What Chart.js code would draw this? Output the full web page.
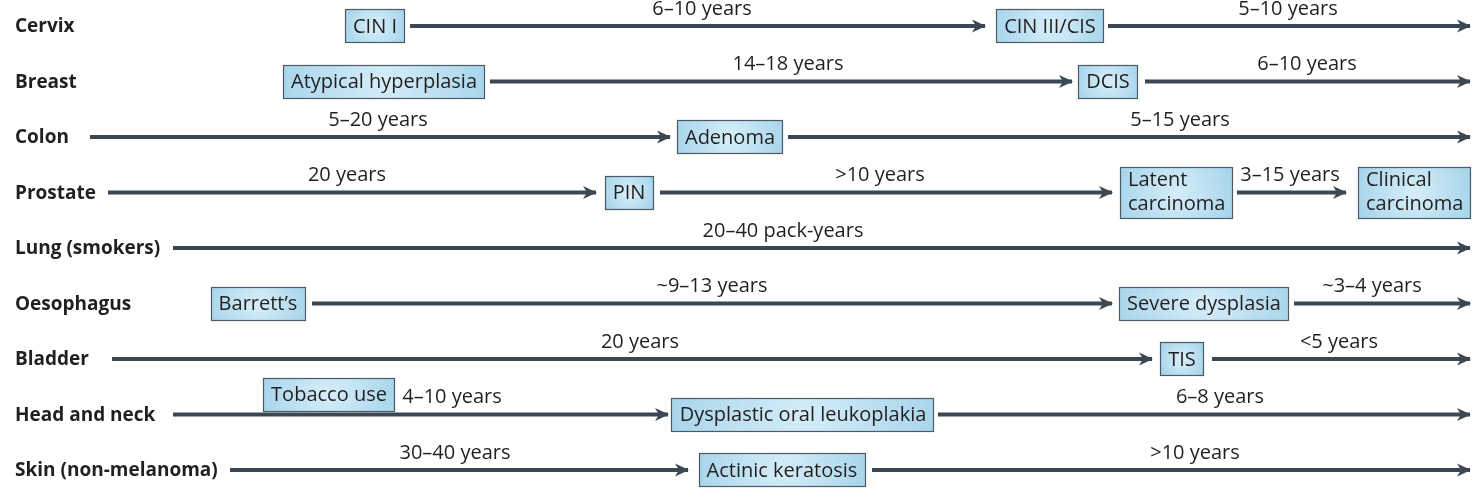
<!DOCTYPE html>
<html>
<head>
<meta charset="utf-8">
<script src="https://cdn.jsdelivr.net/npm/chart.js@4"></script>
<style>
  html, body { margin: 0; padding: 0; background: #fff; }
  #wrap { width: 1480px; height: 499px; position: relative; }
</style>
</head>
<body>
<div id="wrap"><canvas id="progression"></canvas></div>
<script>
// cancer sites, top to bottom
var sites = ["Cervix", "Breast", "Colon", "Prostate", "Lung (smokers)",
             "Oesophagus", "Bladder", "Head and neck", "Skin (non-melanoma)"];

// arrows along each row (position on the diagram, 0-1480)
var arrowSite = [0, 0, 1, 1, 2, 2, 3, 3, 3, 4, 5, 5, 6, 6, 7, 7, 8, 8];
var arrowFrom = [410, 1108, 490, 1145, 90, 788, 108, 660, 1237, 173, 312, 1294, 112, 1212, 173, 938, 230, 872];
var arrowTo   = [985, 1470, 1072, 1470, 670, 1470, 596, 1112, 1346, 1470, 1112, 1470, 1152, 1470, 668, 1470, 688, 1470];

// lesion stages (boxes)
var stageSite = [0, 0, 1, 1, 2, 3, 3, 3, 5, 5, 6, 7, 7, 8];
var stageAt   = [375, 1050, 384, 1108, 730, 629, 1176, 1414, 258, 1204, 1182, 329, 803, 782];
var stageText = ["CIN I", "CIN III/CIS", "Atypical hyperplasia", "DCIS", "Adenoma", "PIN",
                 "Latent\ncarcinoma", "Clinical\ncarcinoma", "Barrett\u2019s", "Severe dysplasia",
                 "TIS", "Tobacco use", "Dysplastic oral leukoplakia", "Actinic keratosis"];
var stageExposure = [false, false, false, false, false, false, false, false, false, false, false, true, false, false];

// time labels
var timeSite = [0, 0, 1, 1, 2, 2, 3, 3, 3, 4, 5, 5, 6, 6, 7, 7, 8, 8];
var timeAt   = [702, 1288, 788, 1307, 378, 1180, 347, 880, 1290, 783, 712, 1372, 640, 1339, 452, 1220, 455, 1195];
var timeText = ["6\u201310 years", "5\u201310 years", "14\u201318 years", "6\u201310 years",
                "5\u201320 years", "5\u201315 years", "20 years", ">10 years", "3\u201315 years",
                "20\u201340 pack-years", "~9\u201313 years", "~3\u20134 years", "20 years", "<5 years",
                "4\u201310 years", "6\u20138 years", "30\u201340 years", ">10 years"];

var ink = "#3b4853";
var textCol = "#231f20";
var font = "20px 'Open Sans'";
var boldFont = "bold 19px 'Open Sans'";

var datasets = arrowSite.map(function (s, i) {
    return {
        data: [{x: arrowFrom[i], y: sites[s]}, {x: arrowTo[i], y: sites[s]}],
        borderColor: ink,
        borderWidth: 4,
        pointRadius: 0,
        tension: 0,
        clip: false
    };
});

function box(ctx, cx, cy, text) {
    var lines = text.split("\n");
    ctx.font = font;
    var tw = 0;
    lines.forEach(function (l) { tw = Math.max(tw, ctx.measureText(l).width); });
    var padX = 8;
    var w = Math.round(tw + padX * 2);
    var h = lines.length > 1 ? 52 : 34;
    var x0 = Math.round(cx - w / 2), y0 = Math.round(cy - h / 2);
    var g = ctx.createRadialGradient(cx, cy, 4, cx, cy, Math.max(w, h) * 0.6);
    g.addColorStop(0, "#d3ecf8");
    g.addColorStop(1, "#a0d1e9");
    ctx.fillStyle = g;
    ctx.fillRect(x0, y0, w, h);
    ctx.strokeStyle = "#4d5a63";
    ctx.lineWidth = 1.2;
    ctx.strokeRect(x0 + 0.5, y0 + 0.5, w - 1, h - 1);
    ctx.fillStyle = textCol;
    ctx.textBaseline = "middle";
    if (lines.length > 1) {
        ctx.textAlign = "left";
        ctx.fillText(lines[0], x0 + padX, cy - 12);
        ctx.fillText(lines[1], x0 + padX, cy + 12);
    } else {
        ctx.textAlign = "center";
        ctx.fillText(lines[0], cx, cy + 1);
    }
}

var diagramPlugin = {
    id: "diagram",
    afterDatasetsDraw: function (chart) {
        var ctx = chart.ctx, xs = chart.scales.x, ys = chart.scales.y;
        ctx.save();
        // arrow heads
        ctx.fillStyle = ink;
        arrowSite.forEach(function (s, i) {
            var px = xs.getPixelForValue(arrowTo[i]);
            var py = ys.getPixelForValue(s);
            ctx.beginPath();
            ctx.moveTo(px + 1, py);
            ctx.lineTo(px - 13, py - 6.5);
            ctx.lineTo(px - 9, py);
            ctx.lineTo(px - 13, py + 6.5);
            ctx.closePath();
            ctx.fill();
        });
        // stage boxes
        stageSite.forEach(function (s, i) {
            var cy = ys.getPixelForValue(s) + (stageExposure[i] ? -20 : 0);
            box(ctx, xs.getPixelForValue(stageAt[i]), cy, stageText[i]);
        });
        // time labels
        ctx.font = font;
        ctx.fillStyle = textCol;
        ctx.textAlign = "center";
        ctx.textBaseline = "middle";
        timeSite.forEach(function (s, i) {
            ctx.fillText(timeText[i], xs.getPixelForValue(timeAt[i]), ys.getPixelForValue(s) - 17);
        });
        // site names
        ctx.font = boldFont;
        ctx.textAlign = "left";
        sites.forEach(function (name, i) {
            ctx.fillText(name, 15, ys.getPixelForValue(i) + 1);
        });
        ctx.restore();
    }
};

new Chart(document.getElementById("progression"), {
    type: "line",
    data: { datasets: datasets },
    options: {
        responsive: true,
        maintainAspectRatio: false,
        animation: false,
        events: [],
        layout: { padding: { top: 26, bottom: 29, left: 0, right: 0 } },
        scales: {
            x: { type: "linear", min: 0, max: 1480, display: false },
            y: { type: "category", labels: sites, offset: false, display: false }
        },
        plugins: {
            legend: { display: false },
            tooltip: { enabled: false }
        }
    },
    plugins: [diagramPlugin]
});
</script>
</body>
</html>
